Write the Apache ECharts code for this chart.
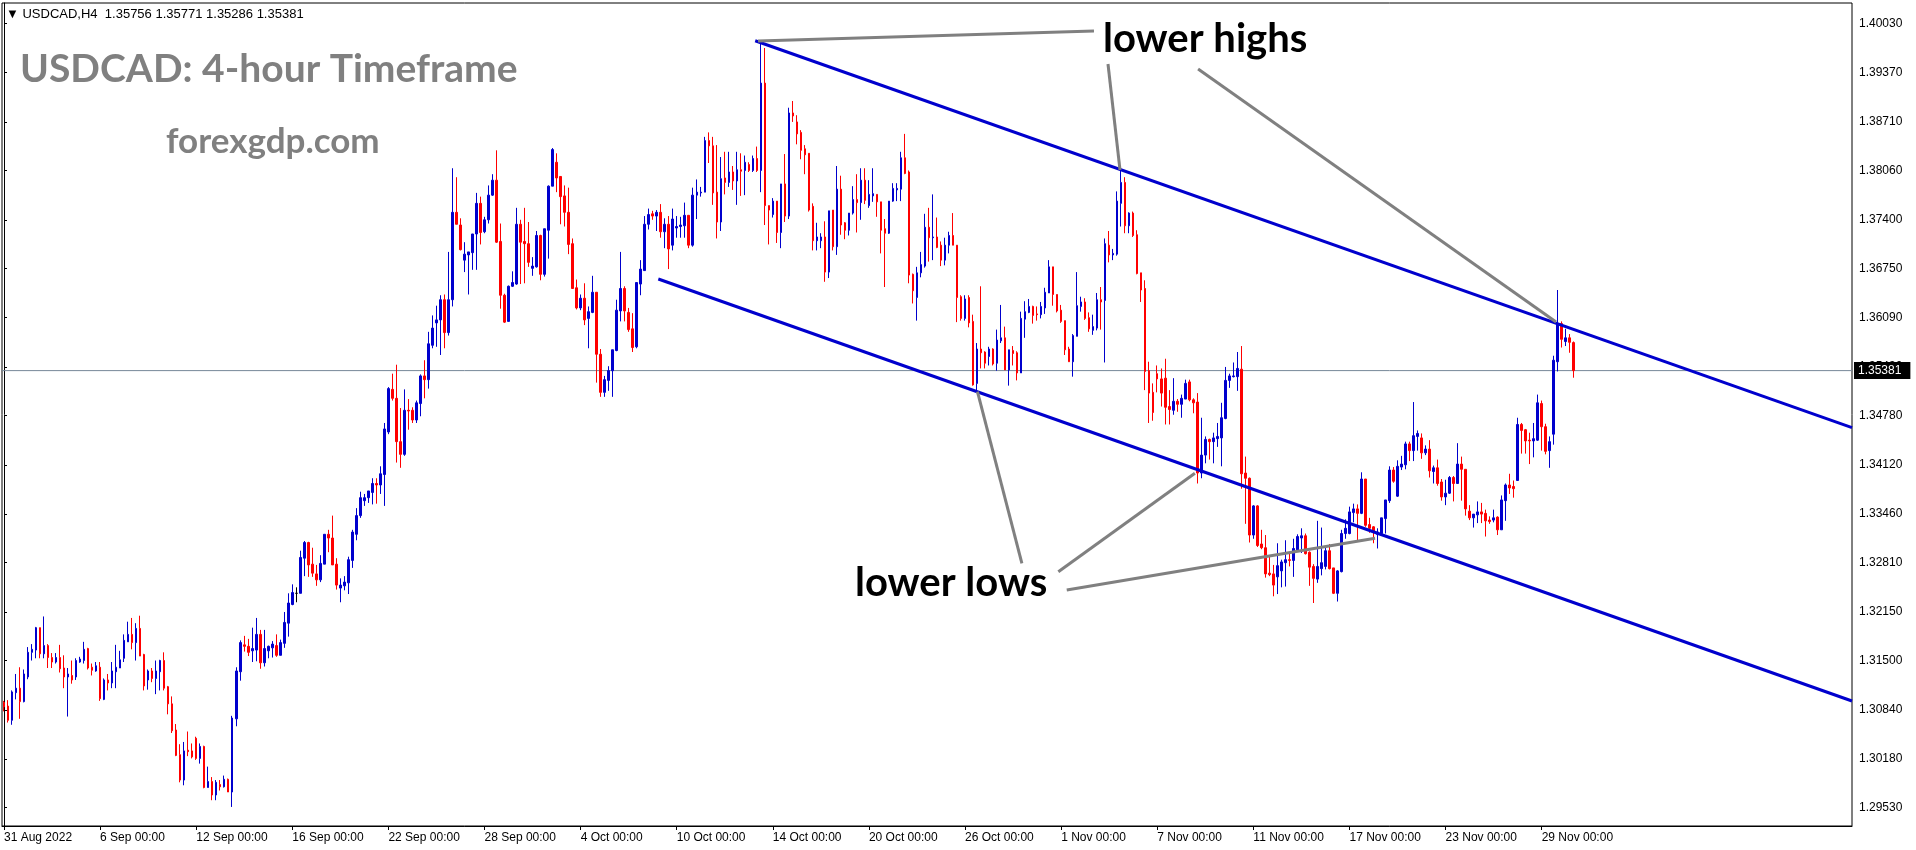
<!DOCTYPE html>
<html><head><meta charset="utf-8">
<script src="https://cdn.jsdelivr.net/npm/echarts@6/dist/echarts.min.js"></script>
<style>html,body{margin:0;padding:0;background:#fff}#c{width:1916px;height:850px}</style>
</head><body><div id="c"></div><script>
const symbolName = 'USDCAD,H4';
const titleText = 'USDCAD: 4-hour Timeframe';
const siteText = 'forexgdp.com';
const timeLabels = ['31 Aug 2022','6 Sep 00:00','12 Sep 00:00','16 Sep 00:00','22 Sep 00:00','28 Sep 00:00','4 Oct 00:00','10 Oct 00:00','14 Oct 00:00','20 Oct 00:00','26 Oct 00:00','1 Nov 00:00','7 Nov 00:00','11 Nov 00:00','17 Nov 00:00','23 Nov 00:00','29 Nov 00:00'];
const barsPerLabel = 24;
const slotCount = 462;
const priceTicks = [1.29530,1.30180,1.30840,1.31500,1.32150,1.32810,1.33460,1.34120,1.34780,1.35430,1.36090,1.36750,1.37400,1.38060,1.38710,1.39370,1.40030];
// [open, high, low, close] per 4-hour bar
const candles = [
[1.3094,1.3096,1.3082,1.3088],[1.3089,1.3097,1.3067,1.3070],[1.3070,1.3110,1.3064,1.3108],[1.3107,1.3132,1.3098,1.3113],
[1.3113,1.3141,1.3072,1.3095],[1.3095,1.3138,1.3094,1.3132],[1.3128,1.3168,1.3125,1.3161],[1.3161,1.3172,1.3150,1.3165],
[1.3164,1.3195,1.3153,1.3194],[1.3194,1.3194,1.3153,1.3159],[1.3159,1.3209,1.3153,1.3170],[1.3170,1.3172,1.3140,1.3154],
[1.3154,1.3160,1.3140,1.3148],[1.3148,1.3160,1.3146,1.3154],[1.3154,1.3171,1.3134,1.3139],[1.3140,1.3157,1.3113,1.3128],
[1.3128,1.3140,1.3075,1.3132],[1.3130,1.3150,1.3119,1.3124],[1.3128,1.3153,1.3124,1.3150],[1.3148,1.3155,1.3147,1.3152],
[1.3150,1.3175,1.3146,1.3165],[1.3166,1.3167,1.3138,1.3140],[1.3141,1.3146,1.3130,1.3137],[1.3136,1.3148,1.3135,1.3143],
[1.3141,1.3148,1.3096,1.3099],[1.3098,1.3126,1.3097,1.3124],[1.3124,1.3132,1.3110,1.3120],[1.3120,1.3148,1.3113,1.3136],
[1.3135,1.3171,1.3113,1.3141],[1.3140,1.3163,1.3140,1.3151],[1.3153,1.3185,1.3148,1.3177],[1.3175,1.3202,1.3175,1.3185],
[1.3185,1.3207,1.3165,1.3174],[1.3174,1.3200,1.3150,1.3193],[1.3193,1.3210,1.3156,1.3156],[1.3158,1.3159,1.3110,1.3116],
[1.3124,1.3138,1.3111,1.3136],[1.3136,1.3140,1.3121,1.3126],[1.3126,1.3150,1.3105,1.3136],[1.3135,1.3151,1.3110,1.3150],
[1.3150,1.3161,1.3110,1.3113],[1.3115,1.3116,1.3078,1.3092],[1.3092,1.3102,1.3053,1.3056],[1.3057,1.3065,1.3022,1.3023],
[1.3024,1.3038,1.2987,1.2990],[1.2990,1.3041,1.2983,1.3029],[1.3030,1.3055,1.3022,1.3028],[1.3029,1.3039,1.3019,1.3021],
[1.3046,1.3048,1.3017,1.3019],[1.3019,1.3039,1.3012,1.3035],[1.3035,1.3036,1.2979,1.2980],[1.2980,1.3008,1.2980,1.2988],
[1.2988,1.2994,1.2963,1.2970],[1.2970,1.2990,1.2963,1.2987],[1.2984,1.2990,1.2976,1.2981],[1.2981,1.2996,1.2980,1.2991],
[1.2991,1.2992,1.2974,1.2974],[1.2974,1.3076,1.2954,1.3073],[1.3072,1.3141,1.3062,1.3136],[1.3135,1.3177,1.3123,1.3174],
[1.3171,1.3183,1.3162,1.3169],[1.3169,1.3179,1.3156,1.3161],[1.3163,1.3194,1.3148,1.3166],[1.3164,1.3207,1.3149,1.3185],
[1.3185,1.3191,1.3139,1.3147],[1.3147,1.3191,1.3142,1.3166],[1.3163,1.3170,1.3153,1.3169],[1.3167,1.3176,1.3154,1.3172],
[1.3170,1.3185,1.3155,1.3157],[1.3157,1.3178,1.3157,1.3174],[1.3173,1.3215,1.3167,1.3201],[1.3200,1.3240,1.3182,1.3227],
[1.3225,1.3252,1.3224,1.3241],[1.3240,1.3248,1.3228,1.3240],[1.3240,1.3297,1.3240,1.3288],[1.3287,1.3310,1.3263,1.3308],
[1.3308,1.3309,1.3262,1.3278],[1.3279,1.3301,1.3262,1.3267],[1.3266,1.3278,1.3250,1.3258],[1.3258,1.3291,1.3255,1.3280],
[1.3279,1.3319,1.3279,1.3319],[1.3319,1.3325,1.3295,1.3314],[1.3314,1.3344,1.3278,1.3278],[1.3279,1.3287,1.3245,1.3251],
[1.3247,1.3260,1.3228,1.3251],[1.3250,1.3263,1.3244,1.3255],[1.3254,1.3289,1.3239,1.3285],[1.3284,1.3325,1.3274,1.3322],
[1.3319,1.3354,1.3311,1.3344],[1.3344,1.3376,1.3341,1.3368],[1.3364,1.3373,1.3357,1.3368],[1.3368,1.3377,1.3361,1.3377],
[1.3375,1.3394,1.3359,1.3387],[1.3387,1.3394,1.3360,1.3385],[1.3385,1.3410,1.3373,1.3400],[1.3399,1.3468,1.3357,1.3460],
[1.3456,1.3516,1.3453,1.3514],[1.3513,1.3534,1.3498,1.3501],[1.3501,1.3546,1.3415,1.3443],[1.3443,1.3488,1.3408,1.3426],
[1.3426,1.3513,1.3424,1.3485],[1.3485,1.3500,1.3459,1.3484],[1.3485,1.3489,1.3468,1.3472],[1.3472,1.3498,1.3468,1.3495],
[1.3494,1.3533,1.3477,1.3531],[1.3531,1.3552,1.3501,1.3526],[1.3526,1.3590,1.3514,1.3574],[1.3572,1.3612,1.3568,1.3595],
[1.3602,1.3625,1.3570,1.3606],[1.3606,1.3639,1.3559,1.3633],[1.3633,1.3640,1.3568,1.3589],[1.3589,1.3697,1.3585,1.3633],
[1.3633,1.3809,1.3624,1.3750],[1.3750,1.3797,1.3734,1.3734],[1.3733,1.3742,1.3699,1.3700],[1.3686,1.3710,1.3670,1.3694],
[1.3693,1.3697,1.3640,1.3697],[1.3696,1.3721,1.3673,1.3721],[1.3721,1.3776,1.3673,1.3762],[1.3762,1.3771,1.3707,1.3723],
[1.3724,1.3744,1.3722,1.3740],[1.3740,1.3786,1.3735,1.3773],[1.3773,1.3801,1.3772,1.3793],[1.3793,1.3833,1.3709,1.3710],
[1.3711,1.3735,1.3621,1.3639],[1.3639,1.3641,1.3602,1.3603],[1.3604,1.3652,1.3604,1.3651],[1.3651,1.3671,1.3650,1.3656],
[1.3654,1.3756,1.3653,1.3734],[1.3734,1.3740,1.3654,1.3710],[1.3711,1.3756,1.3655,1.3708],[1.3708,1.3737,1.3677,1.3683],
[1.3675,1.3690,1.3665,1.3678],[1.3677,1.3725,1.3676,1.3719],[1.3719,1.3720,1.3659,1.3667],[1.3667,1.3728,1.3664,1.3728],
[1.3726,1.3786,1.3688,1.3785],[1.3785,1.3836,1.3785,1.3834],[1.3817,1.3829,1.3777,1.3796],[1.3798,1.3798,1.3734,1.3771],
[1.3772,1.3786,1.3731,1.3750],[1.3750,1.3783,1.3694,1.3707],[1.3708,1.3715,1.3648,1.3648],[1.3649,1.3660,1.3620,1.3622],
[1.3622,1.3640,1.3619,1.3635],[1.3635,1.3655,1.3599,1.3606],[1.3608,1.3624,1.3568,1.3617],[1.3616,1.3665,1.3615,1.3643],
[1.3643,1.3643,1.3522,1.3560],[1.3560,1.3567,1.3503,1.3509],[1.3509,1.3531,1.3503,1.3526],[1.3525,1.3544,1.3511,1.3538],
[1.3538,1.3566,1.3503,1.3566],[1.3565,1.3633,1.3564,1.3619],[1.3618,1.3697,1.3604,1.3648],[1.3648,1.3651,1.3604,1.3618],
[1.3616,1.3622,1.3590,1.3593],[1.3594,1.3615,1.3563,1.3569],[1.3570,1.3656,1.3568,1.3656],[1.3654,1.3686,1.3639,1.3674],
[1.3672,1.3745,1.3672,1.3734],[1.3734,1.3755,1.3727,1.3747],[1.3748,1.3752,1.3740,1.3745],[1.3745,1.3753,1.3725,1.3750],
[1.3750,1.3761,1.3716,1.3724],[1.3724,1.3742,1.3702,1.3734],[1.3734,1.3745,1.3674,1.3701],[1.3706,1.3755,1.3699,1.3741],
[1.3729,1.3745,1.3716,1.3731],[1.3731,1.3744,1.3716,1.3733],[1.3732,1.3763,1.3716,1.3746],[1.3746,1.3746,1.3702,1.3706],
[1.3706,1.3783,1.3704,1.3773],[1.3773,1.3794,1.3741,1.3777],[1.3776,1.3784,1.3771,1.3777],[1.3777,1.3851,1.3777,1.3846],
[1.3846,1.3857,1.3816,1.3839],[1.3839,1.3851,1.3760,1.3776],[1.3777,1.3840,1.3715,1.3737],[1.3737,1.3824,1.3725,1.3795],
[1.3796,1.3831,1.3774,1.3790],[1.3790,1.3831,1.3784,1.3804],[1.3804,1.3812,1.3780,1.3792],[1.3792,1.3831,1.3760,1.3807],
[1.3807,1.3829,1.3772,1.3805],[1.3806,1.3826,1.3773,1.3817],[1.3814,1.3817,1.3804,1.3806],[1.3806,1.3826,1.3804,1.3822],
[1.3822,1.3838,1.3804,1.3806],[1.3806,1.3980,1.3777,1.3923],[1.3923,1.3970,1.3733,1.3759],[1.3759,1.3759,1.3707,1.3753],
[1.3747,1.3769,1.3743,1.3765],[1.3765,1.3765,1.3709,1.3723],[1.3723,1.3788,1.3702,1.3788],[1.3788,1.3828,1.3737,1.3745],
[1.3745,1.3890,1.3741,1.3883],[1.3883,1.3899,1.3871,1.3879],[1.3871,1.3880,1.3841,1.3855],[1.3857,1.3860,1.3821,1.3833],
[1.3835,1.3840,1.3801,1.3827],[1.3829,1.3829,1.3751,1.3753],[1.3758,1.3762,1.3699,1.3712],[1.3712,1.3736,1.3699,1.3717],
[1.3712,1.3722,1.3702,1.3717],[1.3717,1.3738,1.3657,1.3670],[1.3670,1.3752,1.3662,1.3752],[1.3753,1.3753,1.3699,1.3704],
[1.3704,1.3812,1.3693,1.3781],[1.3781,1.3799,1.3720,1.3733],[1.3736,1.3737,1.3714,1.3726],[1.3726,1.3749,1.3719,1.3749],
[1.3749,1.3785,1.3747,1.3767],[1.3767,1.3801,1.3723,1.3763],[1.3763,1.3809,1.3740,1.3793],[1.3793,1.3809,1.3761,1.3766],
[1.3759,1.3793,1.3756,1.3774],[1.3772,1.3809,1.3764,1.3775],[1.3774,1.3774,1.3744,1.3764],[1.3764,1.3764,1.3695,1.3726],
[1.3728,1.3741,1.3650,1.3722],[1.3722,1.3765,1.3721,1.3765],[1.3765,1.3789,1.3764,1.3782],[1.3780,1.3789,1.3765,1.3782],
[1.3781,1.3831,1.3765,1.3823],[1.3823,1.3855,1.3801,1.3802],[1.3804,1.3806,1.3655,1.3666],[1.3667,1.3668,1.3628,1.3645],
[1.3636,1.3677,1.3605,1.3669],[1.3669,1.3697,1.3663,1.3680],[1.3678,1.3748,1.3676,1.3730],[1.3730,1.3756,1.3684,1.3716],
[1.3716,1.3774,1.3686,1.3717],[1.3717,1.3743,1.3702,1.3703],[1.3706,1.3711,1.3678,1.3686],[1.3686,1.3716,1.3679,1.3706],
[1.3706,1.3724,1.3695,1.3719],[1.3719,1.3749,1.3706,1.3706],[1.3706,1.3706,1.3603,1.3636],[1.3637,1.3639,1.3605,1.3608],
[1.3608,1.3639,1.3605,1.3634],[1.3636,1.3639,1.3596,1.3602],[1.3604,1.3613,1.3518,1.3519],[1.3521,1.3575,1.3512,1.3567],
[1.3567,1.3651,1.3541,1.3562],[1.3563,1.3564,1.3541,1.3548],[1.3557,1.3570,1.3545,1.3567],[1.3567,1.3568,1.3545,1.3547],
[1.3548,1.3593,1.3538,1.3579],[1.3578,1.3626,1.3575,1.3582],[1.3582,1.3597,1.3539,1.3539],[1.3539,1.3566,1.3518,1.3566],
[1.3565,1.3571,1.3545,1.3561],[1.3562,1.3564,1.3525,1.3535],[1.3535,1.3617,1.3535,1.3608],[1.3607,1.3631,1.3582,1.3617],
[1.3616,1.3634,1.3615,1.3624],[1.3624,1.3625,1.3601,1.3612],[1.3614,1.3624,1.3605,1.3613],[1.3613,1.3630,1.3608,1.3624],
[1.3622,1.3649,1.3614,1.3643],[1.3642,1.3686,1.3642,1.3677],[1.3677,1.3677,1.3625,1.3640],[1.3640,1.3640,1.3616,1.3618],
[1.3619,1.3626,1.3602,1.3604],[1.3605,1.3605,1.3559,1.3566],[1.3567,1.3570,1.3550,1.3550],[1.3550,1.3587,1.3530,1.3585],
[1.3584,1.3670,1.3584,1.3625],[1.3624,1.3637,1.3617,1.3630],[1.3630,1.3635,1.3606,1.3608],[1.3609,1.3616,1.3590,1.3594],
[1.3592,1.3613,1.3586,1.3597],[1.3595,1.3642,1.3592,1.3633],[1.3633,1.3650,1.3593,1.3630],[1.3632,1.3715,1.3549,1.3708],
[1.3706,1.3725,1.3683,1.3693],[1.3693,1.3701,1.3686,1.3695],[1.3694,1.3778,1.3692,1.3765],[1.3762,1.3806,1.3731,1.3790],
[1.3790,1.3797,1.3722,1.3732],[1.3732,1.3750,1.3722,1.3749],[1.3749,1.3751,1.3717,1.3719],[1.3720,1.3726,1.3667,1.3668],
[1.3669,1.3669,1.3630,1.3646],[1.3648,1.3659,1.3512,1.3537],[1.3538,1.3550,1.3468,1.3508],[1.3509,1.3521,1.3471,1.3482],
[1.3534,1.3545,1.3509,1.3527],[1.3527,1.3541,1.3490,1.3508],[1.3528,1.3554,1.3466,1.3489],[1.3490,1.3512,1.3466,1.3486],
[1.3485,1.3528,1.3479,1.3497],[1.3497,1.3500,1.3483,1.3493],[1.3493,1.3506,1.3475,1.3501],[1.3500,1.3526,1.3500,1.3521],
[1.3523,1.3526,1.3497,1.3499],[1.3499,1.3501,1.3481,1.3495],[1.3496,1.3508,1.3387,1.3401],[1.3401,1.3475,1.3394,1.3425],
[1.3425,1.3450,1.3414,1.3446],[1.3446,1.3447,1.3419,1.3443],[1.3443,1.3455,1.3414,1.3448],[1.3447,1.3468,1.3436,1.3450],
[1.3448,1.3495,1.3410,1.3475],[1.3474,1.3543,1.3473,1.3525],[1.3525,1.3534,1.3515,1.3531],[1.3530,1.3549,1.3529,1.3531],
[1.3530,1.3563,1.3511,1.3541],[1.3540,1.3571,1.3380,1.3400],[1.3401,1.3423,1.3333,1.3394],[1.3394,1.3395,1.3308,1.3318],
[1.3318,1.3358,1.3313,1.3357],[1.3357,1.3358,1.3302,1.3304],[1.3306,1.3325,1.3299,1.3301],[1.3301,1.3318,1.3261,1.3266],
[1.3267,1.3289,1.3263,1.3265],[1.3266,1.3278,1.3236,1.3251],[1.3262,1.3307,1.3239,1.3277],[1.3270,1.3285,1.3248,1.3282],
[1.3281,1.3311,1.3249,1.3285],[1.3285,1.3294,1.3276,1.3284],[1.3284,1.3313,1.3262,1.3300],[1.3298,1.3319,1.3298,1.3316],
[1.3314,1.3327,1.3294,1.3317],[1.3317,1.3320,1.3292,1.3293],[1.3295,1.3296,1.3250,1.3275],[1.3276,1.3279,1.3227,1.3260],
[1.3259,1.3337,1.3254,1.3276],[1.3273,1.3328,1.3264,1.3281],[1.3276,1.3302,1.3272,1.3297],[1.3297,1.3306,1.3272,1.3273],
[1.3274,1.3274,1.3239,1.3240],[1.3240,1.3271,1.3229,1.3270],[1.3269,1.3325,1.3268,1.3320],[1.3320,1.3339,1.3313,1.3327],
[1.3320,1.3356,1.3319,1.3349],[1.3348,1.3360,1.3335,1.3353],[1.3353,1.3359,1.3311,1.3347],[1.3347,1.3402,1.3346,1.3393],
[1.3393,1.3393,1.3329,1.3331],[1.3332,1.3341,1.3321,1.3327],[1.3329,1.3330,1.3307,1.3322],[1.3319,1.3327,1.3300,1.3322],
[1.3320,1.3341,1.3319,1.3341],[1.3340,1.3365,1.3320,1.3365],[1.3364,1.3410,1.3361,1.3405],[1.3405,1.3409,1.3388,1.3390],
[1.3370,1.3418,1.3369,1.3410],[1.3409,1.3424,1.3405,1.3413],[1.3412,1.3443,1.3406,1.3440],[1.3440,1.3443,1.3417,1.3431],
[1.3431,1.3496,1.3417,1.3451],[1.3450,1.3458,1.3431,1.3454],[1.3448,1.3454,1.3420,1.3428],[1.3428,1.3438,1.3425,1.3433],
[1.3433,1.3445,1.3395,1.3404],[1.3403,1.3411,1.3387,1.3408],[1.3408,1.3419,1.3384,1.3387],[1.3389,1.3393,1.3364,1.3369],
[1.3369,1.3392,1.3358,1.3374],[1.3374,1.3397,1.3373,1.3395],[1.3395,1.3397,1.3363,1.3387],[1.3387,1.3441,1.3387,1.3413],
[1.3413,1.3423,1.3364,1.3406],[1.3406,1.3406,1.3344,1.3353],[1.3350,1.3358,1.3338,1.3341],[1.3341,1.3346,1.3328,1.3346],
[1.3345,1.3363,1.3334,1.3349],[1.3349,1.3361,1.3334,1.3346],[1.3347,1.3352,1.3316,1.3337],[1.3338,1.3343,1.3333,1.3336],
[1.3338,1.3352,1.3335,1.3341],[1.3342,1.3343,1.3318,1.3325],[1.3325,1.3371,1.3325,1.3365],[1.3364,1.3387,1.3337,1.3385],
[1.3385,1.3400,1.3373,1.3381],[1.3383,1.3391,1.3368,1.3380],[1.3391,1.3475,1.3391,1.3466],[1.3466,1.3468,1.3427,1.3458],
[1.3459,1.3460,1.3427,1.3444],[1.3445,1.3455,1.3413,1.3444],[1.3444,1.3468,1.3422,1.3447],[1.3445,1.3506,1.3444,1.3495],
[1.3494,1.3498,1.3431,1.3463],[1.3463,1.3467,1.3426,1.3430],[1.3431,1.3450,1.3408,1.3443],[1.3453,1.3558,1.3439,1.3552],
[1.3550,1.3646,1.3537,1.3601],[1.3601,1.3604,1.3569,1.3580],[1.3577,1.3594,1.3571,1.3582],[1.3582,1.3587,1.3562,1.3576],
[1.35756,1.35771,1.35286,1.35381]
];
// channel lines: [bar position, price]
const upperChannel = [[187.6,1.39797],[461.5,1.34617]];
const lowerChannel = [[163.4,1.36607],[461.5,1.30958]];
// pointer lines from the notes to the swing points
const highPointers = [
  [[188.3,1.39793],[272.2,1.39927]],
  [[275.7,1.39485],[278.7,1.38066]],
  [[298.2,1.39418],[387.6,1.36032]]
];
const lowPointers = [
  [[243.1,1.35099],[254.2,1.32802]],
  [[263.3,1.32689],[297.4,1.34006]],
  [[265.4,1.32444],[342.4,1.33136]]
];
const noteHighs = 'lower highs';
const noteLows = 'lower lows';

const chart = echarts.init(document.getElementById('c'), null, {renderer: 'canvas'});
const cats = Array.from({length: slotCount}, (_, i) => String(i));
const last = candles[candles.length - 1];
const lastClose = last[3];
const seriesData = candles.map(c => {
  const v = [c[0], c[3], c[2], c[1]];
  if (c[0] === c[3]) return {value: v, itemStyle: {color: '#000', color0: '#000', borderColor: '#000', borderColor0: '#000'}};
  return v;
});
const showTick = (i) => i % barsPerLabel === 0 && i / barsPerLabel < timeLabels.length;
const lineSeries = (data, color, width) => ({
  type: 'line', xAxisIndex: 1, yAxisIndex: 0, data: data, symbol: 'none', silent: true,
  lineStyle: {color: color, width: width}, z: 5, animation: false, clip: false
});
const series = [];
// bid line with price box on the axis
const bidLine = lineSeries([[-0.5, lastClose], [slotCount - 0.5, lastClose]], '#778899', 1);
bidLine.z = 2;
bidLine.endLabel = {show: true, formatter: lastClose.toFixed(5), color: '#fff', backgroundColor: '#000',
  padding: [3, 9, 2, 4], fontSize: 12, fontFamily: 'Liberation Sans', distance: 2};
series.push(bidLine);
series.push({
  type: 'candlestick', data: seriesData, barWidth: 2, z: 3, silent: true,
  itemStyle: {color: '#0000CD', color0: '#FF0000', borderColor: '#0000CD', borderColor0: '#FF0000', borderColorDoji: '#000', borderWidth: 1}
});
series.push(lineSeries(upperChannel, '#0000CD', 3));
series.push(lineSeries(lowerChannel, '#0000CD', 3));
highPointers.concat(lowPointers).forEach(p => series.push(lineSeries(p, '#808080', 3)));

const header = '\u25BC ' + symbolName + '  ' + [last[0], last[1], last[2], last[3]].map(v => v.toFixed(5)).join(' ');

chart.setOption({
  animation: false,
  backgroundColor: '#fff',
  grid: {left: 2, top: 3, width: 1850, height: 823, show: true, borderColor: '#000', borderWidth: 1, backgroundColor: '#fff'},
  xAxis: [{
    type: 'category', data: cats, boundaryGap: true,
    axisLine: {show: true, lineStyle: {color: '#000', width: 1}},
    axisTick: {show: true, alignWithLabel: true, interval: showTick, length: 4, lineStyle: {color: '#000'}},
    axisLabel: {interval: showTick, formatter: (v, i) => timeLabels[Number(v) / barsPerLabel] || '',
      align: 'left', margin: 6, fontSize: 12, fontFamily: 'Liberation Sans', color: '#000'},
    splitLine: {show: false}
  }, {
    type: 'value', min: -0.5, max: slotCount - 0.5, show: false
  }],
  yAxis: [{
    type: 'value', position: 'right', min: 1.29285, max: 1.40302,
    axisLine: {show: true, lineStyle: {color: '#000', width: 1}},
    axisTick: {show: true, length: 3, customValues: priceTicks, lineStyle: {color: '#000'}},
    axisLabel: {customValues: priceTicks, formatter: v => v.toFixed(5), margin: 7, fontSize: 12, fontFamily: 'Liberation Sans', color: '#000'},
    splitLine: {show: false}
  }],
  graphic: [
    {type: 'text', left: 6, top: 8, z: 10, style: {text: header, fontSize: 13, fontFamily: 'Liberation Sans, DejaVu Sans', fill: '#000'}},
    {type: 'text', left: 20, top: 50, z: 10, style: {text: titleText, fontSize: 39, fontWeight: 'bold', fontFamily: 'Lato', fill: '#808080'}},
    {type: 'text', left: 166, top: 124, z: 10, style: {text: siteText, fontSize: 35, fontWeight: 'bold', fontFamily: 'Lato', fill: '#808080'}},
    {type: 'text', left: 1103, top: 19, z: 10, style: {text: noteHighs, fontSize: 40, fontWeight: 'bold', fontFamily: 'Lato', fill: '#000'}},
    {type: 'text', left: 855, top: 563, z: 10, style: {text: noteLows, fontSize: 40, fontWeight: 'bold', fontFamily: 'Lato', fill: '#000'}}
  ],
  series: series
});
</script></body></html>
